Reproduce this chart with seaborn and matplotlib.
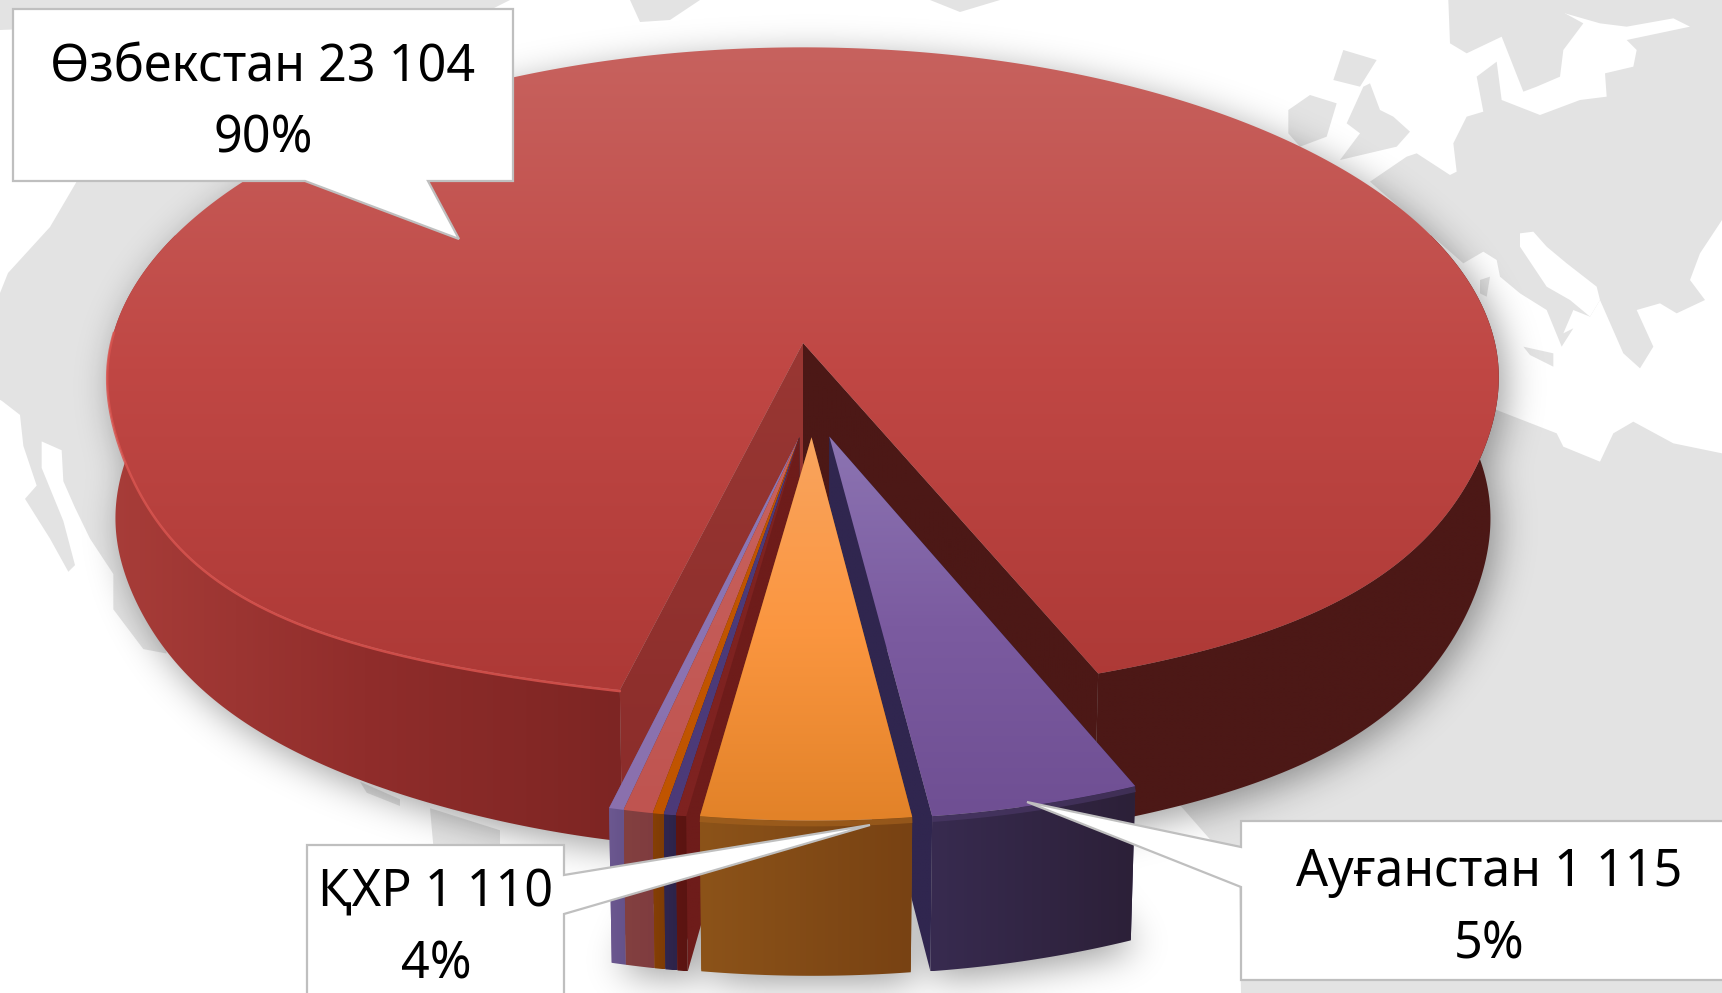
import numpy as np
import pandas as pd
import seaborn as sns
import matplotlib
matplotlib.use('Agg')
import matplotlib.pyplot as plt
from matplotlib.patches import Polygon
from matplotlib.path import Path

# data
names = ['Өзбекстан', 'Ауғанстан', 'ҚХР', 'small_1', 'small_2', 'small_3', 'small_4', 'small_5']
values = [23104, 1115, 1110, 55, 65, 58, 156, 78]
groups = ['main', 'afg', 'chn', 'small', 'small', 'small', 'small', 'small']
label_lines = ['Өзбекстан 23 104\n90%', 'Ауғанстан 1 115\n5%', 'ҚХР 1 110\n4%']

# top colours, wall colours, side face colour
top_cols = [['#c7625e', '#c04744', '#ad3936'], ['#8c74b2', '#7b5ba0', '#6f4f93'], ['#f9a45e', '#fb9640', '#e28228'],
            ['#7e2220', '#7e2220'], ['#4c3a78', '#4c3a78'], ['#c05400', '#c05400'], ['#c9625e', '#bf5450'], ['#8d78b6', '#8a70ad']]
wall_cols = [['#a83d39', '#902d2b', '#7d2523'], ['#382b50', '#2c2038'], ['#8c5319', '#784213'],
             ['#5e1512', '#5a1411'], ['#30264f', '#2d2349'], ['#853f05', '#7c3b05'], ['#83403f', '#7f3c40'], ['#6c5890', '#65528a']]
face_cols = ['#4c1816', '#30264f', '#8c5319', '#6e1c1a', '#30264f', '#853f05', '#83403f', '#6c5890']

df = pd.DataFrame({'name': names, 'value': values, 'group': groups})
df['sweep'] = df['value'] / df['value'].sum() * 360

sns.set_theme(style='white', rc={'figure.facecolor': 'white'})
plt.rcParams['font.family'] = ['Noto Sans', 'DejaVu Sans']

# projection of the pie disc onto the page
cx, cy, a, b, c, k, m = 803, 343, 692, 327, 142, 0.106, 0.012
radius_slice = 0.985
explode = 0.28


def project(x, y, z=0.0):
    w = 1 + k * y - m * z
    return np.column_stack([cx + a * x / w, cy - (b * y + c * z) / w])


def main_radius(t):
    # the front of the disc is a bit flatter than a true circle, front left bulges more
    s, co = np.sin(t), np.cos(t)
    bulge = np.where(s < 0, 0.045, 0.03)
    front = 0.98 + 0.02 * s ** 2 + bulge * np.sin(2 * t) ** 4
    return np.where(co > 0, front, 1.0)


def arc(t0, t1, off, z=0.0, n=160, radius=radius_slice):
    t = np.radians(np.linspace(t0, t1, n))
    r = main_radius(t) if radius == 'main' else radius
    return project(off[0] + r * np.sin(t), off[1] - r * np.cos(t), z)


def main_bottom(t0, t1, n=160):
    # wall of the big slice is thinner at the front left
    t = np.linspace(t0, t1, n) % 360
    u = np.clip((t - 270) / 76, 0, 1)
    return arc(t0, t1, (0, 0), -1 + 0.14 * np.sin(np.pi * u) ** 2, n, 'main')


def apex(off, z=0.0):
    return project(np.array([off[0]]), np.array([off[1]]), z)


fig = plt.figure(figsize=(17.22, 9.93), dpi=100)
ax = fig.add_axes([0, 0, 1, 1])
ax.set_xlim(0, 1722)
ax.set_ylim(993, 0)
ax.axis('off')


def fill_grad(pts, cols, horizontal=False, zorder=3):
    patch = Polygon(pts, closed=True, facecolor='none', edgecolor='none', transform=ax.transData)
    ax.add_patch(patch)
    cmap = sns.blend_palette(cols, n_colors=256, as_cmap=True)
    x0, x1, y0, y1 = pts[:, 0].min(), pts[:, 0].max(), pts[:, 1].min(), pts[:, 1].max()
    g = np.linspace(0, 1, 256)
    g = g[None, :] if horizontal else g[:, None]
    im = ax.imshow(g, cmap=cmap, extent=[x0, x1, y1, y0], aspect='auto', zorder=zorder, interpolation='bilinear')
    im.set_clip_path(patch)
    ax.set_xlim(0, 1722)
    ax.set_ylim(993, 0)


# background map, rough outline
def zoomed(pts, x0, y0, sx, sy):
    p = np.array(pts, dtype=float)
    return np.column_stack([x0 + p[:, 0] / sx, y0 + p[:, 1] / sy])


land = '#e3e3e3'
eu = lambda p: zoomed(p, 1200, 0, 3, 3)
am = lambda p: zoomed(p, 0, 300, 3, 2.263)
land_shapes = [
    np.array([[0, 0], [510, 0], [490, 10], [0, 30]], dtype=float),
    np.array([[630, 0], [700, 0], [670, 20], [640, 22]], dtype=float),
    np.array([[930, 0], [1000, 0], [960, 12]], dtype=float),
    np.array([[77, 181], [600, 181], [600, 500], [0, 400], [0, 293], [8, 273], [50, 227]], dtype=float),
    am([[0, 0], [350, 0], [500, 800], [430, 790], [340, 700], [340, 620], [270, 540], [225, 470], [190, 410], [185, 340], [125, 320],
        [125, 380], [190, 500], [225, 600], [205, 615], [150, 540], [75, 450], [110, 420], [70, 330], [60, 260], [0, 225]]),
    am([[1080, 1090], [1200, 1130], [1200, 1145], [1100, 1115]]),
    am([[1290, 1150], [1500, 1200], [1500, 1235], [1300, 1235]]),
    eu([[510, 545], [620, 470], [650, 460], [750, 525], [770, 515], [760, 430], [800, 350], [850, 335], [830, 230], [890, 185],
        [905, 300], [1020, 345], [1140, 300], [1220, 290], [1215, 220], [1300, 200], [1310, 150], [1280, 120], [1470, 80],
        [1420, 55], [1280, 80], [1200, 70], [1095, 40], [1095, 0], [1566, 0], [1566, 660], [1500, 760], [1470, 840], [1515, 900],
        [1430, 940], [1380, 910], [1310, 930], [1360, 1040], [1320, 1105], [1270, 1060], [1200, 900], [1170, 950], [1120, 930],
        [1090, 1000], [1120, 985], [1085, 1040], [1040, 930], [960, 880], [900, 830], [890, 780], [850, 755], [790, 790]]),
    eu([[745, 0], [1095, 0], [1095, 40], [1150, 70], [1090, 150], [1080, 230], [1010, 260], [970, 275], [905, 110], [800, 160], [750, 130]]),
    eu([[510, 250], [540, 330], [580, 350], [630, 395], [590, 440], [420, 480], [480, 400], [440, 370], [490, 260]]),
    eu([[430, 150], [530, 180], [480, 260], [400, 240]]),
    eu([[265, 330], [330, 285], [410, 310], [380, 410], [300, 440], [265, 400]]),
    eu([[840, 840], [870, 830], [860, 890], [840, 880]]),
    eu([[970, 1040], [1060, 1060], [1060, 1100], [990, 1065]]),
    np.vstack([eu([[890, 1230], [1070, 1300], [1090, 1340], [1200, 1385], [1240, 1300], [1300, 1265], [1420, 1330], [1566, 1360]]),
               [[1722, 993], [1241, 993], [1239, 881], [1215, 845], [1000, 600], [1400, 450]]]),
]
for pts in land_shapes:
    ax.add_patch(Polygon(pts, closed=True, facecolor=land, edgecolor='none', zorder=1))
ax.add_patch(Polygon(eu([[960, 700], [1000, 695], [1040, 740], [1100, 790], [1190, 860], [1200, 900], [1170, 950], [1110, 900],
                         [1040, 860], [1000, 800], [960, 740]]), closed=True, facecolor='white', edgecolor='none', zorder=1))

# slice angles, t=0 is straight down, clockwise from above means t falls
start = 346.0
df['t0'] = start - df['sweep'].cumsum().shift(fill_value=0)
df['t1'] = df['t0'] - df['sweep']
offsets = {}
for g, part in df.groupby('group', sort=False):
    bis = ((part['t0'].iloc[0] + part['t1'].iloc[-1]) / 2 + 180) % 360 - 180
    if g == 'main':
        offsets[g] = (0.0, 0.0)
    else:
        d = np.radians(2.6 + 0.33 * bis)
        offsets[g] = (explode * np.sin(d), -explode * np.cos(d))

# soft shadow from the pie footprint
sil = [main_bottom(0, 360), arc(0, 360, (0, 0), 0, radius='main')]
for _, r in df.iloc[1:].iterrows():
    off = offsets[r['group']]
    sil.append(np.vstack([apex(off, -1), arc(r['t0'], r['t1'], off, -1, 30)]))
    sil.append(np.vstack([apex(off, 0), arc(r['t0'], r['t1'], off, 0, 30)]))
step = 2
gx, gy = np.meshgrid(np.arange(0, 1722, step), np.arange(0, 993, step))
grid = np.column_stack([gx.ravel(), gy.ravel()])
mask = np.zeros(gx.size, dtype=bool)
for s in sil:
    mask |= Path(s + np.array([6, 8])).contains_points(grid)
mask = mask.reshape(gx.shape).astype(float)
pad = 60
padded = np.pad(mask, pad)
fy = np.fft.fftfreq(padded.shape[0])
fx = np.fft.rfftfreq(padded.shape[1])
sig = 9.0
kern = np.exp(-2 * (np.pi * sig) ** 2 * (fy[:, None] ** 2 + fx[None, :] ** 2))
blur = np.fft.irfft2(np.fft.rfft2(padded) * kern, s=padded.shape)[pad:-pad, pad:-pad]
shadow = np.zeros(mask.shape + (4,))
shadow[..., 3] = np.clip(blur, 0, 1) * 0.38
ax.imshow(shadow, extent=[0, 1722, 993, 0], aspect='auto', zorder=2, interpolation='bilinear')

# main slice
main = df.iloc[0]
o = offsets['main']
t0, t1 = main['t0'], main['t1']
fill_grad(np.vstack([arc(250, t0, o, radius='main'), main_bottom(t0, 250)]), wall_cols[0], horizontal=True)
fill_grad(np.vstack([arc(t1, 110, o, radius='main'), arc(110, t1, o, -1, radius='main')]), ['#4c1816', '#4c1816'])
fill_grad(np.vstack([apex(o), arc(t0, t0, o, 0, 2, 'main')[:1], arc(t0, t0, o, -1, 2, 'main')[:1], apex(o, -1)]), ['#993733', '#8a2c2a'])
fill_grad(np.vstack([apex(o), arc(t1, t1, o, 0, 2, 'main')[:1], arc(t1, t1, o, -1, 2, 'main')[:1], apex(o, -1)]), ['#4c1816', '#4c1816'])
fill_grad(np.vstack([apex(o), arc(t0, t1, o, 0, 500, 'main')]), top_cols[0])
rim = arc(268, t0, o, radius='main')
ax.plot(rim[:, 0], rim[:, 1] + 1, color='#d9544f', lw=1.8, alpha=0.85, zorder=3)

# exploded slices, the orange one sits on the side of the purple one
rim_cols = {1: '#4d3a6a', 2: '#a8641f'}
for i in [7, 6, 5, 4, 3, 1, 2]:
    r = df.iloc[i]
    o = offsets[r['group']]
    t0, t1 = r['t0'], r['t1']
    face = np.vstack([apex(o), arc(t0, t0, o, 0, 2)[:1], arc(t0, t0, o, -1, 2)[:1], apex(o, -1)])
    fill_grad(face, [face_cols[i], face_cols[i]])
    face = np.vstack([apex(o), arc(t1, t1, o, 0, 2)[:1], arc(t1, t1, o, -1, 2)[:1], apex(o, -1)])
    fill_grad(face, [face_cols[i], face_cols[i]])
    fill_grad(np.vstack([arc(t0, t1, o, 0, 40), arc(t1, t0, o, -1, 40)]), wall_cols[i], horizontal=True)
    fill_grad(np.vstack([apex(o), arc(t0, t1, o, 0, 40)]), top_cols[i])
    if i in rim_cols:
        rim = arc(t0, t1, o, 0, 40)
        ax.plot(rim[:, 0], rim[:, 1] + 3, color=rim_cols[i], lw=4, alpha=0.6, zorder=3, solid_capstyle='butt')

# callouts
box_edge = '#bfbfbf'
callouts = [
    ([[13, 9], [513, 9], [513, 181], [428, 181], [459, 239], [305, 181], [13, 181]], label_lines[0], 263, 68, 139),
    ([[1241, 821], [1730, 821], [1730, 980], [1241, 980], [1241, 887], [1027, 802], [1241, 847]], label_lines[1], 1489, 873, 945),
    ([[307, 845], [564, 845], [564, 875], [870, 825], [564, 914], [564, 1000], [307, 1000]], label_lines[2], 436, 893, 965),
]
for pts, txt, tx, ty1, ty2 in callouts:
    ax.add_patch(Polygon(np.array(pts, dtype=float), closed=True, facecolor='white', edgecolor=box_edge, lw=1.6, zorder=5))
    line1, line2 = txt.split('\n')
    ax.text(tx, ty1, line1, ha='center', va='center', fontsize=36.2, color='black', zorder=6)
    ax.text(tx, ty2, line2, ha='center', va='center', fontsize=36.2, color='black', zorder=6)

fig.savefig('out.png', dpi=100)
